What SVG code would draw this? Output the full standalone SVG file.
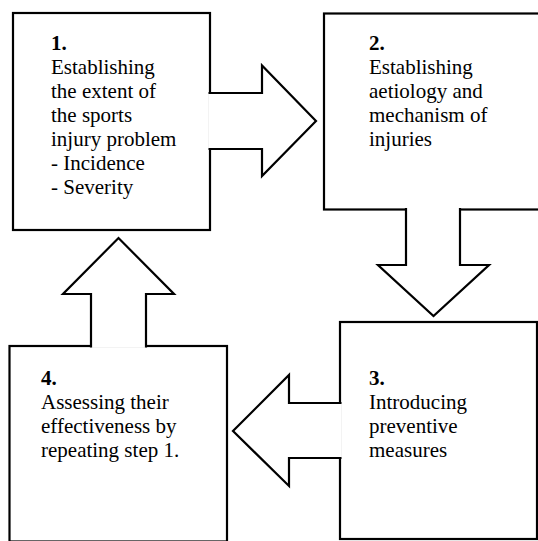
<svg xmlns="http://www.w3.org/2000/svg" width="538" height="541" viewBox="0 0 538 541">
<style>
.box{fill:#fff;stroke:#000;stroke-width:2.2}
.arr{fill:#fff;stroke:#000;stroke-width:2.2;stroke-linejoin:miter}
text{font-family:'Liberation Serif','Tinos','DejaVu Serif','Noto Serif',serif;font-size:21px;fill:#000}
.n{font-weight:bold}
</style>
<rect width="538" height="541" fill="#fff"/>
<g id="node1">
<rect class="box" x="13" y="13" width="197" height="217"/>
<text font-family="Liberation Serif, DejaVu Serif, serif"><tspan class="n" x="51" y="50">1.</tspan><tspan x="51" y="74">Establishing</tspan><tspan x="51" y="98">the extent of</tspan><tspan x="51" y="122">the sports</tspan><tspan x="51" y="146">injury problem</tspan><tspan x="51" y="170">- Incidence</tspan><tspan x="51" y="194">- Severity</tspan></text>
</g>
<g id="node2">
<rect class="box" x="324" y="13.5" width="230" height="196"/>
<text font-family="Liberation Serif, DejaVu Serif, serif"><tspan class="n" x="369" y="50">2.</tspan><tspan x="369" y="74">Establishing</tspan><tspan x="369" y="98">aetiology and</tspan><tspan x="369" y="122">mechanism of</tspan><tspan x="369" y="146">injuries</tspan></text>
</g>
<g id="node3">
<rect class="box" x="340" y="322" width="197" height="217"/>
<text font-family="Liberation Serif, DejaVu Serif, serif"><tspan class="n" x="369" y="385">3.</tspan><tspan x="369" y="409">Introducing</tspan><tspan x="369" y="433">preventive</tspan><tspan x="369" y="457">measures</tspan></text>
</g>
<g id="node4">
<rect class="box" x="9.5" y="346" width="217.5" height="195.5"/>
<text font-family="Liberation Serif, DejaVu Serif, serif"><tspan class="n" x="41" y="385">4.</tspan><tspan x="41" y="409">Assessing their</tspan><tspan x="41" y="433">effectiveness by</tspan><tspan x="41" y="457">repeating step 1.</tspan></text>
</g>
<g id="connectors">
<path class="arr" d="M208.5,93 H262 V65.5 L316,121 L262,176 V149 H208.5"/>
<path class="arr" d="M406,208 V265 H378 L433.5,316 L489,265 H460 V208"/>
<path class="arr" d="M341.5,403 H289 V375 L233,431 L289,486 V458 H341.5"/>
<path class="arr" d="M91,347.5 V294 H63 L118.5,238 L174,294 H146 V347.5"/>
</g>
</svg>
